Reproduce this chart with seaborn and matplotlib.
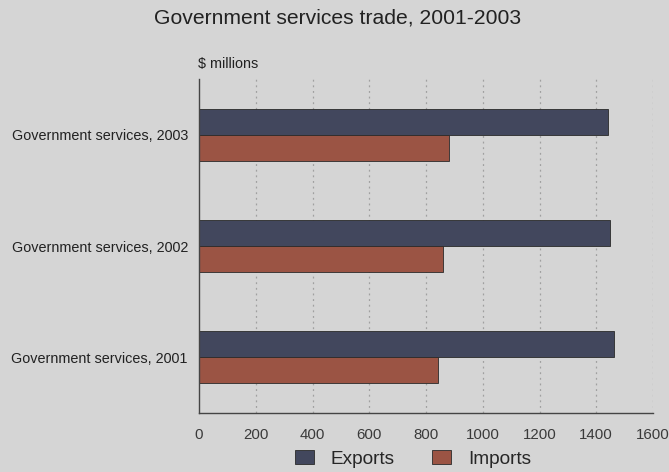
import matplotlib
matplotlib.use("Agg")
import matplotlib.pyplot as plt
import seaborn as sns
import pandas as pd

categories = ["Government services, 2003", "Government services, 2002", "Government services, 2001"]
exports = [1442, 1447, 1463]
imports = [880, 859, 841]
series = ["Exports", "Imports"]
xticks = [0, 200, 400, 600, 800, 1000, 1200, 1400, 1600]

df = pd.DataFrame({
    "category": categories * 2,
    "value": exports + imports,
    "series": [series[0]] * 3 + [series[1]] * 3,
})

bg = "#d5d5d5"
sns.set_theme(style="white")
plt.rcParams["font.family"] = ["Liberation Sans", "DejaVu Sans"]

fig = plt.figure(figsize=(6.69, 4.72), dpi=100, facecolor=bg)
ax = fig.add_axes([199/669, 1 - 413/472, (653-199)/669, (413-79)/472])
ax.set_facecolor(bg)

sns.barplot(data=df, y="category", x="value", hue="series", orient="h",
            palette={"Exports": "#3d4462", "Imports": "#a94b36"},
            width=0.47, edgecolor="#2a2a2a", linewidth=0.6, ax=ax, legend=True)

ax.set_xlim(0, 1600)
ax.set_ylim(2.5, -0.5)
ax.set_xticks(xticks)
ax.set_xticklabels([str(t) for t in xticks], fontsize=10.8, color="#3a3a3a")
ax.tick_params(axis="y", labelsize=10.4, colors="#222222", length=0, pad=8)
ax.tick_params(axis="x", length=0, pad=11)
ax.set_xlabel("")
ax.set_ylabel("")
for x in xticks[1:]:
    ax.axvline(x, color="#a0a0a0", linestyle=(0, (1.5, 3)), linewidth=0.9, zorder=0)
ax.set_axisbelow(True)

for s in ["top", "right"]:
    ax.spines[s].set_visible(False)
for s in ["left", "bottom"]:
    ax.spines[s].set_color("#444444")
    ax.spines[s].set_linewidth(1.0)

ax.text(-0.002, 1.025, "$ millions", transform=ax.transAxes, fontsize=10.4, color="#222222",
        ha="left", va="bottom")
fig.text(338/669, 1 - 18/472, "Government services trade, 2001-2003", fontsize=15.2,
         ha="center", va="center", color="#222222")

handles, labels = ax.get_legend_handles_labels()
ax.get_legend().remove()
fig.legend(handles, labels, loc="center", bbox_to_anchor=(413/669, 1 - 459/472),
           ncol=2, frameon=False, fontsize=13.7, handlelength=1.0, handleheight=0.7,
           columnspacing=1.95, handletextpad=0.9)

fig.savefig("out.png", dpi=100, facecolor=bg)
